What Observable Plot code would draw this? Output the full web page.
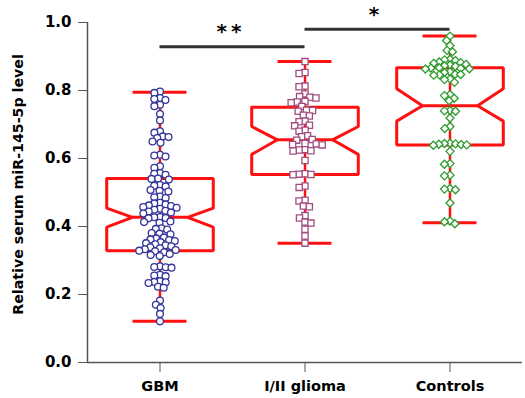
<!DOCTYPE html>
<html>
<head>
<meta charset="utf-8">
<script src="https://cdn.jsdelivr.net/npm/d3@7"></script>
<script src="https://cdn.jsdelivr.net/npm/@observablehq/plot@0.6"></script>
<style>
  html, body { margin: 0; padding: 0; background: #fff; }
  #chart { width: 525px; height: 398px; }
</style>
</head>
<body>
<div id="chart"></div>
<script>
// ---------- data ----------
const categories = ["GBM", "I/II glioma", "Controls"];

const gbmValues = [
  0.797, 0.793,
  0.778, 0.775, 0.772,
  0.758, 0.754,
  0.731,
  0.712,
  0.680, 0.676,
  0.665, 0.663, 0.660,
  0.650, 0.646,
  0.611, 0.609, 0.606,
  0.577, 0.573,
  0.557, 0.555, 0.552,
  0.541, 0.540, 0.538,
  0.522, 0.520, 0.518,
  0.507, 0.505, 0.503,
  0.488, 0.486, 0.484,
  0.470, 0.468, 0.465, 0.462, 0.460, 0.457, 0.455,
  0.452, 0.449, 0.446, 0.444, 0.441, 0.438,
  0.428, 0.427, 0.425, 0.424,
  0.415, 0.413, 0.411,
  0.395, 0.393, 0.391,
  0.381, 0.379, 0.377,
  0.368, 0.365, 0.362, 0.360, 0.357, 0.354,
  0.351, 0.348, 0.345, 0.342, 0.339, 0.336,
  0.333, 0.331, 0.329, 0.327, 0.324,
  0.319, 0.316, 0.313,
  0.283, 0.281, 0.280, 0.279,
  0.258, 0.256, 0.254,
  0.239, 0.237, 0.236, 0.234,
  0.223, 0.220,
  0.182, 0.170, 0.160, 0.143, 0.121
];

const gliomaValues = [
  0.885,
  0.853, 0.850,
  0.813, 0.811,
  0.790,
  0.782, 0.780, 0.778,
  0.768, 0.766, 0.764,
  0.753,
  0.742, 0.741, 0.739,
  0.727, 0.725,
  0.710, 0.708,
  0.698, 0.696,
  0.683, 0.680,
  0.667, 0.664,
  0.656, 0.654,
  0.644, 0.643, 0.641, 0.640,
  0.626, 0.625, 0.623, 0.622,
  0.594,
  0.555, 0.554, 0.553, 0.552,
  0.519, 0.515,
  0.477, 0.475,
  0.460, 0.458,
  0.432, 0.425,
  0.413, 0.410,
  0.392,
  0.372,
  0.351
];

const controlValues = [
  0.960,
  0.947,
  0.932,
  0.918, 0.914,
  0.892, 0.890, 0.888,
  0.884, 0.882, 0.880,
  0.877, 0.875, 0.873, 0.871,
  0.867, 0.866, 0.865, 0.864, 0.863,
  0.855, 0.853,
  0.848, 0.847, 0.846, 0.845,
  0.834, 0.832,
  0.824,
  0.788, 0.785,
  0.777,
  0.770,
  0.741, 0.740, 0.739,
  0.719,
  0.694, 0.688,
  0.645, 0.644, 0.643, 0.642, 0.641, 0.640, 0.639,
  0.621,
  0.585, 0.583,
  0.551, 0.549,
  0.512, 0.510, 0.508,
  0.469,
  0.416, 0.414,
  0.408
];

// box statistics (per category, same order)
const whiskerLow  = [0.121, 0.351, 0.411];
const quartile1   = [0.329, 0.553, 0.640];
const notchLow    = [0.398, 0.612, 0.710];
const medians     = [0.427, 0.655, 0.755];
const notchHigh   = [0.454, 0.694, 0.805];
const quartile3   = [0.541, 0.751, 0.867];
const whiskerHigh = [0.795, 0.885, 0.960];

const yTicks = [0, 0.2, 0.4, 0.6, 0.8, 1.0];
const yTitle = "Relative serum miR-145-5p level";

// significance brackets
const sigFrom   = ["GBM", "I/II glioma"];
const sigLevel  = [0.929, 0.980];
const sigLabels = ["*\u2009*", "*"];

// ---------- build ----------
const BOX_W = 0.735, NOTCH_W = 0.38, CAP_W = 0.372;
const RED = "#ff1010";

const stats = categories.map((g, i) => ({
  g, lo: whiskerLow[i], q1: quartile1[i], nlo: notchLow[i], med: medians[i],
  nhi: notchHigh[i], q3: quartile3[i], hi: whiskerHigh[i]
}));

const outline = stats.flatMap(s => [
  {g: s.g, x: -BOX_W, y: s.q3},
  {g: s.g, x:  BOX_W, y: s.q3},
  {g: s.g, x:  BOX_W, y: s.nhi},
  {g: s.g, x:  NOTCH_W, y: s.med},
  {g: s.g, x:  BOX_W, y: s.nlo},
  {g: s.g, x:  BOX_W, y: s.q1},
  {g: s.g, x: -BOX_W, y: s.q1},
  {g: s.g, x: -BOX_W, y: s.nlo},
  {g: s.g, x: -NOTCH_W, y: s.med},
  {g: s.g, x: -BOX_W, y: s.nhi},
  {g: s.g, x: -BOX_W, y: s.q3}
]);

const sig = sigFrom.map((g, i) => ({g, level: sigLevel[i], label: sigLabels[i]}));

const groups = [
  {g: "GBM", values: gbmValues, symbol: "circle", color: "#35359c", r: 3.4, pad: -1.0},
  {g: "I/II glioma", values: gliomaValues, symbol: "square", color: "#a24c80", r: 3.5, pad: -1.0},
  {g: "Controls", values: controlValues, symbol: "diamond2", color: "#2e9b2e", r: 3.6, pad: -1.6}
];

const dotMarks = groups.map(grp =>
  Plot.dot(grp.values, Plot.dodgeX({anchor: "middle", padding: grp.pad}, {
    fx: () => grp.g, y: d => d, r: grp.r,
    symbol: grp.symbol, stroke: grp.color, fill: "white", strokeWidth: 1.3
  }))
);

const chart = Plot.plot({
  width: 525, height: 398,
  marginLeft: 87, marginRight: 3, marginTop: 22, marginBottom: 36,
  style: {fontFamily: "DejaVu Sans", background: "white", color: "#000"},
  fx: {domain: categories, padding: 0},
  x: {domain: [-1, 1], axis: null},
  y: {domain: [0, 1]},
  marks: [
    Plot.axisY(yTicks, {tickSize: 9, tickPadding: 7, tickFormat: d3.format(".1f"),
      fontSize: 15, fontWeight: "bold", label: null, stroke: "#555"}),
    Plot.axisFx({anchor: "bottom", tickSize: 10, tickPadding: 8, fontSize: 14.5,
      fontWeight: "bold", label: null, stroke: "#555"}),
    Plot.ruleY([0], {stroke: "#555", strokeWidth: 1.5}),
    Plot.ruleX([{g: "GBM"}], {fx: "g", x: -1, y1: 0, y2: 1, stroke: "#555", strokeWidth: 1.5}),
    Plot.text([yTitle], {fx: () => "GBM", frameAnchor: "left", text: d => d, rotate: -90,
      textAnchor: "middle", dx: -69, dy: -8, fontSize: 14.2, fontWeight: "bold"}),
    // whiskers
    Plot.ruleX(stats, {fx: "g", x: 0, y1: "lo", y2: "hi", stroke: RED, strokeWidth: 2.5}),
    Plot.ruleY(stats, {fx: "g", y: "lo", x1: -CAP_W, x2: CAP_W, stroke: RED, strokeWidth: 3}),
    Plot.ruleY(stats, {fx: "g", y: "hi", x1: -CAP_W, x2: CAP_W, stroke: RED, strokeWidth: 3}),
    // notched box
    Plot.line(outline, {fx: "g", x: "x", y: "y", z: "g", stroke: RED, strokeWidth: 3,
      strokeLinejoin: "miter", curve: "linear"}),
    Plot.ruleY(stats, {fx: "g", y: "med", x1: -NOTCH_W, x2: NOTCH_W, stroke: RED, strokeWidth: 3}),
    ...dotMarks,
    // significance
    Plot.ruleY(sig, {fx: "g", y: "level", x1: 0, x2: 2, stroke: "#333", strokeWidth: 3}),
    Plot.text(sig, {fx: "g", x: 0.95, y: "level", text: "label", dy: -15,
      fontSize: 20, fontWeight: "bold", fill: "#000"})
  ]
});

document.getElementById("chart").appendChild(chart);
</script>
</body>
</html>
